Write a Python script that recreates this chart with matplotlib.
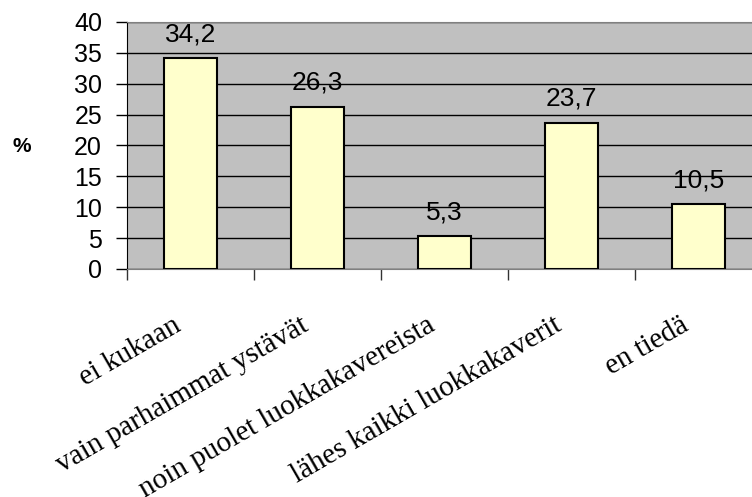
import numpy as np
import matplotlib
matplotlib.use("Agg")
import matplotlib.pyplot as plt
import matplotlib.transforms as mtransforms

# data
categories = ["ei kukaan", "vain parhaimmat ystävät", "noin puolet luokkakavereista",
              "lähes kaikki luokkakaverit", "en tiedä"]
values = [34.2, 26.3, 5.3, 23.7, 10.5]
value_labels = ["34,2", "26,3", "5,3", "23,7", "10,5"]
yticks = [0, 5, 10, 15, 20, 25, 30, 35, 40]

fig = plt.figure(figsize=(7.52, 4.97), dpi=100)
ax = fig.add_axes([0.1689, 0.4588, 0.8444, 0.4970])
ax.set_facecolor("#C0C0C0")

x = np.arange(len(categories)) + 0.5
bars = ax.bar(x, values, width=0.41, color="#FFFFCC", edgecolor="black",
              linewidth=1.5, zorder=3)

for xi, v, lab in zip(x, values, value_labels):
    ax.annotate(lab, (xi, v), textcoords="offset points", xytext=(0, 12),
                ha="center", va="baseline", fontsize=19, family="Liberation Sans")

ax.set_xlim(0, len(categories))
ax.set_ylim(0, 40)
ax.set_yticks(yticks)
ax.set_yticklabels([str(t) for t in yticks], fontsize=18, family="Liberation Sans")
ax.yaxis.grid(True, color="black", linewidth=1.0, zorder=1)
ax.set_axisbelow(True)

# category labels at centres, tick marks at boundaries
ax.set_xticks(x)
ax.set_xticklabels(categories, rotation=30, ha="right", va="top", rotation_mode="anchor",
                   fontsize=21, family="Liberation Serif")
ax.tick_params(axis="x", which="major", length=0, pad=31)
shift = mtransforms.ScaledTranslation(-18 / 100, 0, fig.dpi_scale_trans)
for lbl in ax.get_xticklabels():
    lbl.set_transform(lbl.get_transform() + shift)
ax.set_xticks(np.arange(len(categories) + 1), minor=True)
ax.tick_params(axis="x", which="minor", length=8, direction="out", width=1, color="#333333")
ax.tick_params(axis="y", length=8, direction="out", width=1, pad=10)

ax.spines["left"].set_color("black")
ax.spines["bottom"].set_color("#808080")
ax.spines["top"].set_color("#808080")
ax.spines["right"].set_visible(False)

fig.text(0.029, 0.706, "%", fontsize=15, fontweight="bold", family="Liberation Sans",
         ha="center", va="center")

fig.savefig("out.png", dpi=100)
